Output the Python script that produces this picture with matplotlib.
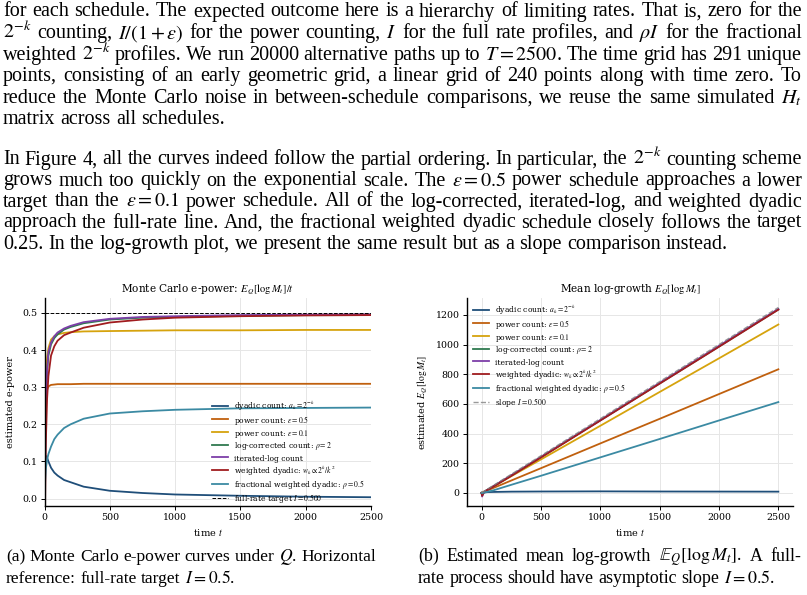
import matplotlib
matplotlib.use("Agg")
import matplotlib.pyplot as plt

W, H = 807, 595

t_power = [1, 5, 10, 20, 30, 50, 75, 100, 150, 200, 300, 500, 750, 1000, 1500, 2000, 2500]
ep_dyadic = [0.0, 0.08, 0.115, 0.11, 0.1, 0.083, 0.07, 0.062, 0.05, 0.044, 0.032, 0.021, 0.015, 0.011, 0.0075, 0.005, 0.0036]
ep_pow05 = [0.0, 0.19, 0.265, 0.293, 0.302, 0.306, 0.307, 0.308, 0.308, 0.308, 0.309, 0.309, 0.309, 0.309, 0.309, 0.309, 0.309]
ep_pow01 = [0.0, 0.25, 0.33, 0.38, 0.405, 0.428, 0.437, 0.442, 0.446, 0.448, 0.450, 0.451, 0.452, 0.453, 0.453, 0.454, 0.454]
ep_logcorr = [-0.3, 0.1, 0.25, 0.34, 0.385, 0.415, 0.432, 0.442, 0.455, 0.462, 0.472, 0.482, 0.487, 0.489, 0.492, 0.494, 0.495]
ep_iterlog = [-0.5, 0.1, 0.26, 0.35, 0.395, 0.42, 0.437, 0.447, 0.458, 0.465, 0.475, 0.484, 0.489, 0.491, 0.494, 0.495, 0.496]
ep_weighted = [-0.4, 0.0, 0.15, 0.27, 0.33, 0.385, 0.41, 0.425, 0.44, 0.447, 0.46, 0.474, 0.482, 0.487, 0.491, 0.493, 0.494]
ep_frac = [0.0, 0.05, 0.08, 0.105, 0.12, 0.14, 0.16, 0.172, 0.19, 0.2, 0.215, 0.229, 0.235, 0.239, 0.243, 0.244, 0.245]

# mean log-growth panel
t_growth = [0, 5, 20, 50, 100, 250, 500, 1000, 1500, 2000, 2500]
lg_dyadic = [0, -3, 2, 5, 6, 8, 9, 10, 9, 8.5, 8]
lg_pow05 = [0, 0, 6, 16, 33, 83, 166, 333, 499, 666, 833]
lg_pow01 = [0, -2, 7.5, 21, 44, 112, 225, 452, 680, 907, 1135]
lg_logcorr = [0, -15, 6, 20, 44, 117, 241, 489, 738, 987, 1237]
lg_iterlog = [0, -25, 6, 21, 45, 118, 242, 491, 741, 991, 1240]
lg_weighted = [0, -20, 3, 19, 42, 114, 238, 487, 736, 985, 1235]
lg_frac = [0, -3, 2, 7, 17, 54, 115, 239, 363, 488, 612]
slope_t = [0, 2500]
slope_val = [0, 1250]
full_rate = 0.5

labels = [
    r"dyadic count: $a_k=2^{-k}$",
    r"power count: $\varepsilon=0.5$",
    r"power count: $\varepsilon=0.1$",
    r"log-corrected count: $\rho=2$",
    "iterated-log count",
    r"weighted dyadic: $w_k\propto 2^k/k^2$",
    r"fractional weighted dyadic: $\rho=0.5$",
]
colors = ["#1f4e79", "#c0600e", "#d6a30d", "#2f7a4f", "#7d3fa8", "#a01c1f", "#3b8aa3"]

para1 = [
    "for each schedule. The expected outcome here is a hierarchy of limiting rates. That is, zero for the",
    r"$2^{-k}$ counting, $I/(1+\varepsilon)$ for the power counting, $I$ for the full rate profiles, and $\rho I$ for the fractional",
    r"weighted $2^{-k}$ profiles. We run 20000 alternative paths up to $T=2500$. The time grid has 291 unique",
    "points, consisting of an early geometric grid, a linear grid of 240 points along with time zero. To",
    r"reduce the Monte Carlo noise in between-schedule comparisons, we reuse the same simulated $H_t$",
    "matrix across all schedules.",
]
para2 = [
    r"In Figure 4, all the curves indeed follow the partial ordering. In particular, the $2^{-k}$ counting scheme",
    r"grows much too quickly on the exponential scale. The $\varepsilon=0.5$ power schedule approaches a lower",
    r"target than the $\varepsilon=0.1$ power schedule. All of the log-corrected, iterated-log, and weighted dyadic",
    "approach the full-rate line. And, the fractional weighted dyadic schedule closely follows the target",
    "0.25. In the log-growth plot, we present the same result but as a slope comparison instead.",
]
cap_a = [r"(a) Monte Carlo e-power curves under $Q$. Horizontal",
         r"reference: full-rate target $I=0.5$."]
cap_b = [r"(b) Estimated mean log-growth $\mathbb{E}_Q[\log M_t]$. A full-",
         r"rate process should have asymptotic slope $I=0.5$."]

plt.rcParams["font.family"] = "DejaVu Serif"
plt.rcParams["mathtext.fontset"] = "stix"

fig = plt.figure(figsize=(W / 100, H / 100), dpi=100)
r = fig.canvas.get_renderer()


def split_words(line):
    # split on spaces but keep $...$ together
    out, cur = [], ""
    for part in line.split(" "):
        cur = part if cur == "" else cur + " " + part
        if cur.count("$") % 2 == 0:
            out.append(cur)
            cur = ""
    if cur:
        out.append(cur)
    return out


def put_line(x0, x1, y, line, justify=True, size=14.5):
    words = split_words(line)
    texts = [fig.text(0, 1 - y / H, w, fontsize=size, family="Liberation Serif",
                      va="baseline", ha="left") for w in words]
    widths = [t.get_window_extent(r).width for t in texts]
    if justify and len(words) > 1:
        gap = (x1 - x0 - sum(widths)) / (len(words) - 1)
    else:
        gap = size * 100 / 72 * 0.25
    x = x0
    for t, w in zip(texts, widths):
        t.set_x(x / W)
        x += w + gap


for i, line in enumerate(para1):
    put_line(3, 802, 16.5 + 21.6 * i, line, justify=i < len(para1) - 1)
for i, line in enumerate(para2):
    put_line(3, 802, 164.5 + 21.0 * i, line, justify=i < len(para2) - 1)
for i, line in enumerate(cap_a):
    put_line(6, 376, 561 + 22 * i, line, justify=i == 0, size=12.6)
for i, line in enumerate(cap_b):
    put_line(418, 801, 561 + 22 * i, line, justify=i == 0, size=12.9)


def style_axes(ax):
    for s in ["top", "right"]:
        ax.spines[s].set_visible(False)
    for s in ["left", "bottom"]:
        ax.spines[s].set_linewidth(1.0)
    ax.tick_params(direction="out", length=3, width=0.7, labelsize=6.8, pad=2)
    ax.grid(True, color="#e6e6e6", linewidth=0.7)
    ax.set_axisbelow(True)


leg_kw = dict(frameon=False, fontsize=5.5, labelspacing=0.1, handleheight=1.55, handlelength=2.1,
              handletextpad=0.8, borderaxespad=0, loc="upper left")

# left panel: e-power
ax1 = fig.add_axes([44.5 / W, 1 - 506 / H, 326.5 / W, 208 / H])
style_axes(ax1)
for vals, lab, c in zip([ep_dyadic, ep_pow05, ep_pow01, ep_logcorr, ep_iterlog, ep_weighted, ep_frac], labels, colors):
    ax1.plot(t_power, vals, color=c, lw=1.3, label=lab)
ax1.axhline(full_rate, color="black", ls="--", lw=0.7, label="full-rate target $I=0.500$")
ax1.set_xlim(0, 2500)
ax1.set_ylim(-0.02, 0.54)
ax1.set_xticks([0, 500, 1000, 1500, 2000, 2500])
ax1.set_yticks([0.0, 0.1, 0.2, 0.3, 0.4, 0.5])
ax1.set_title(r"Monte Carlo e-power: $E_Q[\log M_t]/t$", fontsize=7.6, pad=4)
ax1.set_ylabel("estimated e-power", fontsize=7)
ax1.set_xlabel("time $t$", fontsize=7)
ax1.yaxis.set_label_coords(-0.09, 0.5)
ax1.xaxis.set_label_coords(0.5, -0.1)
ax1.legend(bbox_to_anchor=(209 / W, 1 - 396 / H), bbox_transform=fig.transFigure, **leg_kw)

# right panel: mean log-growth
ax2 = fig.add_axes([466.7 / W, 1 - 506 / H, 326.5 / W, 208 / H])
style_axes(ax2)
for vals, lab, c in zip([lg_dyadic, lg_pow05, lg_pow01, lg_logcorr, lg_iterlog, lg_weighted, lg_frac], labels, colors):
    ax2.plot(t_growth, vals, color=c, lw=1.3, label=lab)
ax2.plot(slope_t, slope_val, color="gray", ls="--", lw=1.0, alpha=0.8, label="slope $I=0.500$")
ax2.set_xticks([0, 500, 1000, 1500, 2000, 2500])
ax2.set_yticks([0, 200, 400, 600, 800, 1000, 1200])
ax2.set_title(r"Mean log-growth $E_Q[\log M_t]$", fontsize=7.6, pad=4)
ax2.set_ylabel(r"estimated $E_Q[\log M_t]$", fontsize=7)
ax2.set_xlabel("time $t$", fontsize=7)
ax2.yaxis.set_label_coords(-0.113, 0.5)
ax2.xaxis.set_label_coords(0.5, -0.1)
ax2.legend(bbox_to_anchor=(470 / W, 1 - 300 / H), bbox_transform=fig.transFigure, **leg_kw)

fig.savefig("out.png", dpi=100)
